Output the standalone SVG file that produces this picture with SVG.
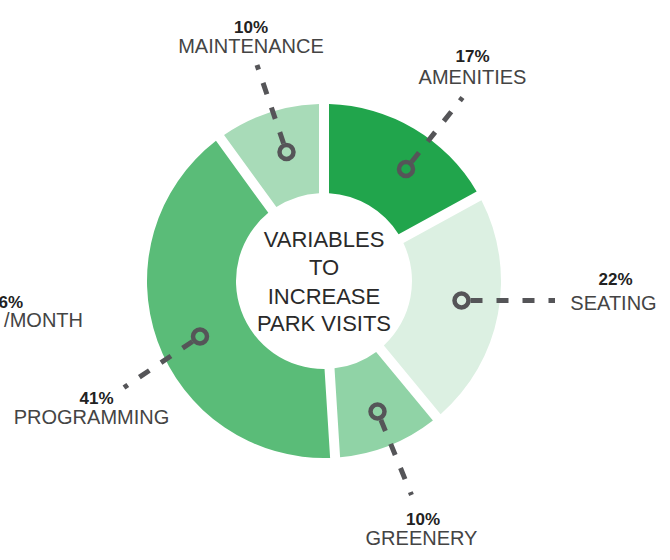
<svg xmlns="http://www.w3.org/2000/svg" width="670" height="560" viewBox="0 0 670 560">
<style>
.pct{font-family:"Liberation Sans",Arial,sans-serif;font-weight:bold;font-size:17px;fill:#222;text-anchor:middle}
.lbl{font-family:"Liberation Sans",Arial,sans-serif;font-size:20px;fill:#444;text-anchor:middle}
.ctr{font-family:"Liberation Sans",Arial,sans-serif;font-size:22px;fill:#2a2a2a;text-anchor:middle}
.ring{fill:none;stroke:#555558;stroke-width:4.5}
.lead{fill:none;stroke:#555558;stroke-width:5;stroke-dasharray:12 14}
</style>
<rect width="670" height="560" fill="#ffffff"/>
<g id="amenities">
<path d="M329,104.07 A177,177 0 0 1 476.64,191.39 L398.58,234.29 A88,88 0 0 0 329,193.14 Z" fill="#21a54c"/>
<text class="pct" x="472.5" y="62">17%</text>
<text class="lbl" x="472.5" y="83.5">AMENITIES</text>
</g>
<g id="seating">
<path d="M481.46,200.15 A177,177 0 0 1 440.65,414.13 L383.86,345.5 A88,88 0 0 0 403.4,243.06 Z" fill="#dcf0e2"/>
<text class="pct" x="615.5" y="285">22%</text>
<text class="lbl" x="613.5" y="310">SEATING</text>
</g>
<g id="greenery">
<path d="M432.9,420.53 A177,177 0 0 1 340.1,457.27 L334.51,368.37 A88,88 0 0 0 376.15,351.88 Z" fill="#90d3a6"/>
<text class="pct" x="423" y="525">10%</text>
<text class="lbl" x="421.5" y="545">GREENERY</text>
</g>
<g id="programming">
<path d="M330.12,457.89 A177,177 0 0 1 215.98,140.78 L268.3,212.87 A88,88 0 0 0 324.53,369 Z" fill="#5abc78"/>
<text class="pct" x="96.5" y="403.5">41%</text>
<text class="lbl" x="91.5" y="424">PROGRAMMING</text>
</g>
<g id="maintenance">
<path d="M224.05,134.92 A177,177 0 0 1 319,104.07 L319,193.14 A88,88 0 0 0 276.4,206.98 Z" fill="#a8dbb8"/>
<text class="pct" x="251" y="32.5">10%</text>
<text class="lbl" x="251" y="52.5">MAINTENANCE</text>
</g>
<g id="events">
<text class="pct" x="23" y="307.5" style="text-anchor:end">6%</text>
<text class="lbl" x="83" y="327" style="text-anchor:end">/MONTH</text>
</g>
<g id="center">
<text class="ctr" x="324" y="247">VARIABLES</text>
<text class="ctr" x="324" y="275">TO</text>
<text class="ctr" x="324" y="303.5">INCREASE</text>
<text class="ctr" x="324" y="331">PARK VISITS</text>
</g>
<g id="connectors">
<circle class="ring" cx="406" cy="169" r="7"/>
<line class="lead" x1="411.58" y1="161.94" x2="462.5" y2="97.5"/>
<circle class="ring" cx="286.5" cy="152" r="7"/>
<line class="lead" x1="283.61" y1="143.48" x2="257" y2="65"/>
<circle class="ring" cx="461.5" cy="300.5" r="7"/>
<line class="lead" x1="470.5" y1="300.5" x2="555" y2="300.5"/>
<circle class="ring" cx="377.5" cy="411.5" r="7"/>
<line class="lead" x1="380.89" y1="419.83" x2="411.5" y2="495"/>
<circle class="ring" cx="200" cy="336.5" r="7"/>
<line class="lead" x1="192.53" y1="341.51" x2="124" y2="387.5"/>
</g>
</svg>
